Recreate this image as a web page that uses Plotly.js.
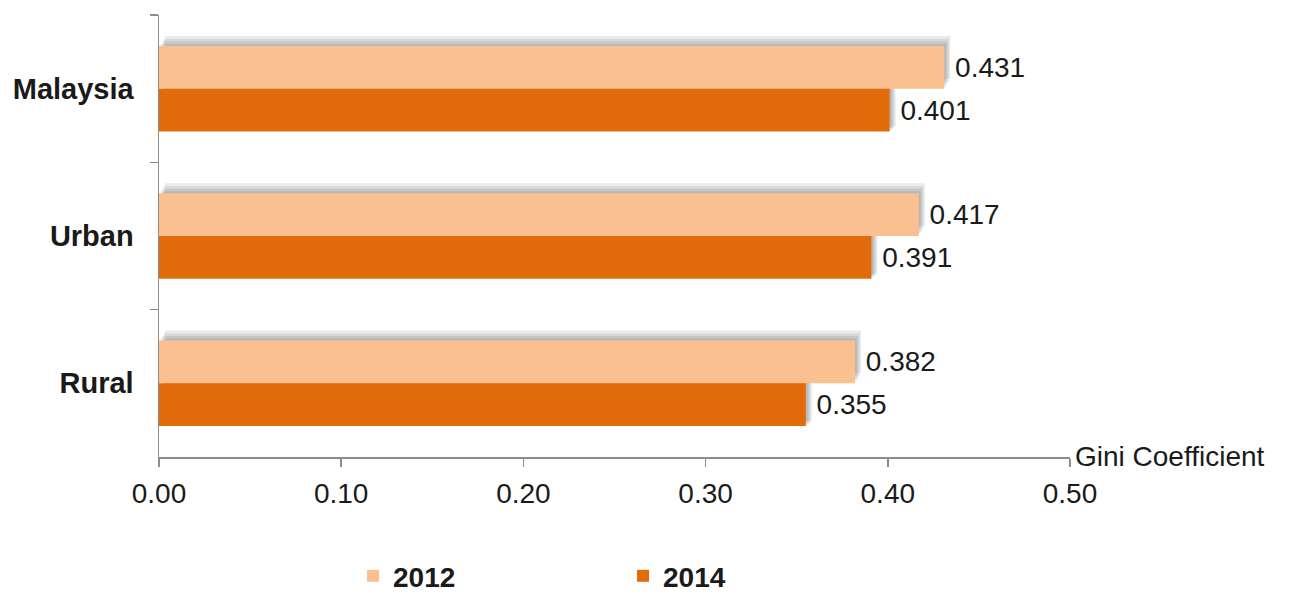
<!DOCTYPE html>
<html><head><meta charset="utf-8">
<script src="https://cdn.plot.ly/plotly-3.0.1.min.js"></script>
<style>html,body{margin:0;padding:0;background:#fff}#chart{width:1298px;height:597px}</style>
</head><body><div id="chart"></div>
<script>
const categories = ['Malaysia', 'Urban', 'Rural'];
const values2012 = [0.431, 0.417, 0.382];
const values2014 = [0.401, 0.391, 0.355];
const seriesNames = ['2012', '2014'];

const W = 0.29;
const fontFam = 'Liberation Sans, Arial, sans-serif';
const txtColor = '#1a1a1a';
// soft drop shadow layers (up and to the right)
const shadowSteps = [[0.0678, 0.0033], [0.0475, 0.0025], [0.0305, 0.0017], [0.0136, 0.0009]];
const shadow = (vals, off, up, right) => ({
  type: 'bar', orientation: 'h', y: categories, x: vals, base: right,
  width: W, offset: off - up, marker: {color: 'rgba(60,60,60,0.11)', line: {width: 0}},
  showlegend: false, hoverinfo: 'skip'
});
const data = [];
shadowSteps.forEach(([up, right]) => {
  data.push(shadow(values2012, -W, up, right));
  data.push(shadow(values2014, 0, up * 0.5, right));
});
data.push(
  {type: 'bar', orientation: 'h', name: seriesNames[0], y: categories, x: values2012,
   width: W, offset: -W, marker: {color: '#FAC090', line: {width: 0}},
   text: values2012.map(v => '\u00a0' + v.toFixed(3)), textposition: 'outside', cliponaxis: false,
   textfont: {family: fontFam, size: 28, color: txtColor}},
  {type: 'bar', orientation: 'h', name: seriesNames[1], y: categories, x: values2014,
   width: W, offset: 0, marker: {color: '#E36C0A', line: {width: 0}},
   text: values2014.map(v => '\u00a0' + v.toFixed(3)), textposition: 'outside', cliponaxis: false,
   textfont: {family: fontFam, size: 28, color: txtColor}}
);
const layout = {
  width: 1298, height: 597,
  margin: {l: 159, r: 228, t: 15, b: 140, pad: 0},
  barmode: 'overlay',
  paper_bgcolor: '#fff', plot_bgcolor: '#fff',
  font: {family: fontFam, color: txtColor},
  xaxis: {range: [0, 0.5], dtick: 0.1, tickformat: '.2f', showgrid: false, zeroline: false,
    showline: true, linecolor: '#8c8c8c', linewidth: 1.5, ticks: 'outside', ticklen: 8,
    tickcolor: '#8c8c8c', tickwidth: 1.5, ticklabelstandoff: 3,
    tickfont: {size: 28, color: txtColor}, fixedrange: true},
  yaxis: {type: 'category', categoryorder: 'array', categoryarray: categories, autorange: 'reversed',
    showgrid: false, zeroline: false, showline: true, linecolor: '#8c8c8c', linewidth: 1.5,
    ticks: 'outside', tickson: 'boundaries', ticklen: 8, tickcolor: '#8c8c8c', tickwidth: 1.5,
    ticklabelstandoff: 18,
    tickfont: {size: 29, color: txtColor, weight: 'bold'}, fixedrange: true},
  showlegend: true,
  legend: {orientation: 'h', xref: 'paper', x: 0.213, xanchor: 'left',
    yref: 'container', y: 0.035, yanchor: 'middle',
    font: {size: 28, color: txtColor, weight: 'bold'}, entrywidth: 225, entrywidthmode: 'pixels',
    itemwidth: 30, tracegroupgap: 0},
  annotations: [{xref: 'x', yref: 'paper', x: 0.5, y: 0, xanchor: 'left', yanchor: 'middle',
    xshift: 3, yshift: 1, text: 'Gini Coefficient', showarrow: false,
    font: {size: 28, color: txtColor}}]
};
Plotly.newPlot('chart', data, layout, {displayModeBar: false, staticPlot: true});
</script></body></html>
